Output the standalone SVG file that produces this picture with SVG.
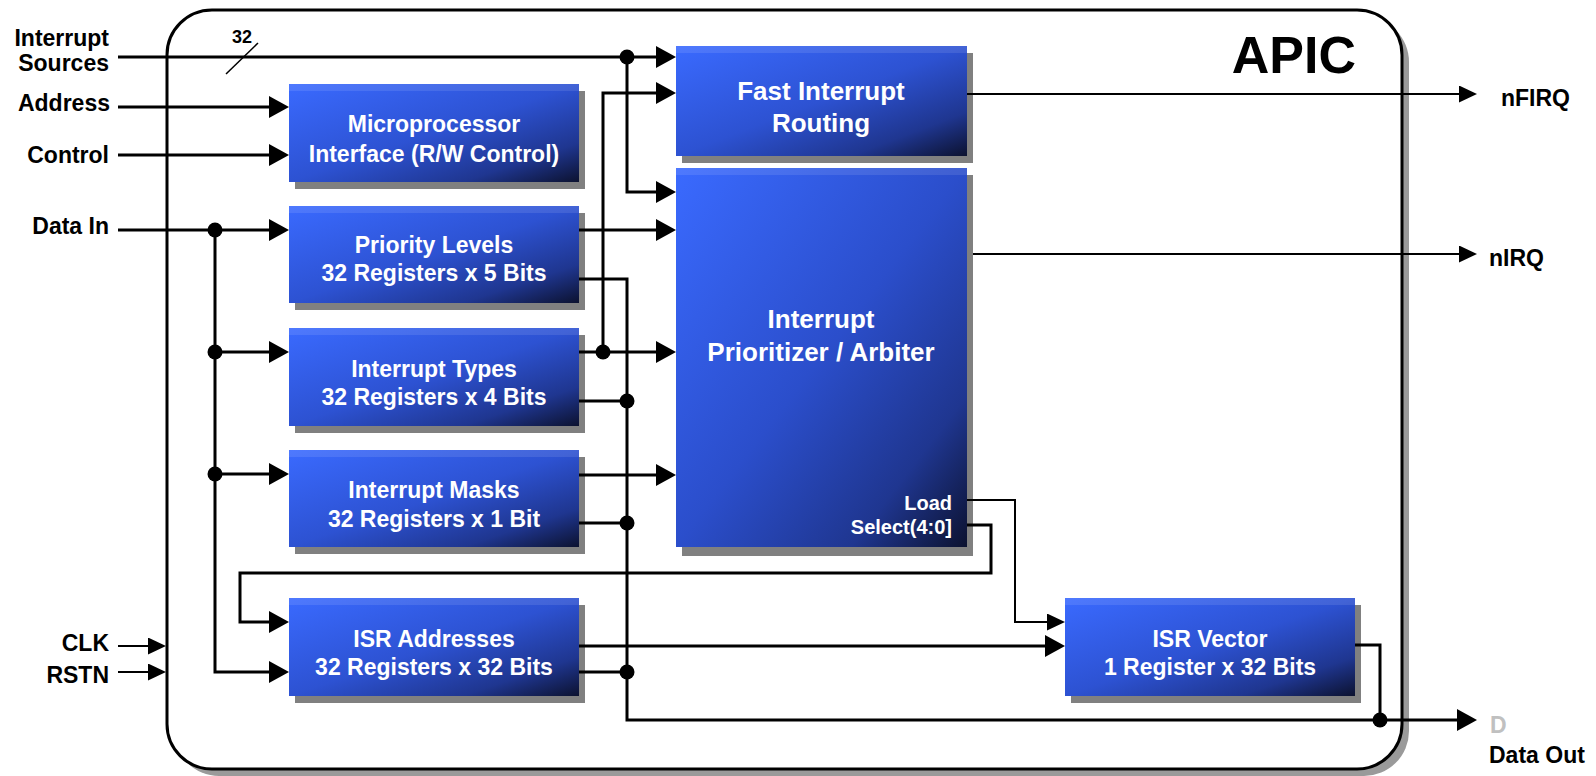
<svg xmlns="http://www.w3.org/2000/svg" width="1596" height="776" viewBox="0 0 1596 776">
<defs>
<linearGradient id="blk" x1="0" y1="0" x2="1" y2="1">
<stop offset="0" stop-color="#3a6aff"/>
<stop offset="0.5" stop-color="#2d52d2"/>
<stop offset="0.8" stop-color="#1f3690"/>
<stop offset="1" stop-color="#0c1230"/>
</linearGradient>
<linearGradient id="blkTall" x1="0" y1="0" x2="1" y2="1" gradientUnits="objectBoundingBox">
<stop offset="0" stop-color="#3a6aff"/>
<stop offset="0.5" stop-color="#2b4ecb"/>
<stop offset="0.8" stop-color="#1f3690"/>
<stop offset="1" stop-color="#0c1230"/>
</linearGradient>
<marker id="ah" markerUnits="userSpaceOnUse" markerWidth="20" markerHeight="22" refX="10" refY="11" orient="auto">
<path d="M0,0 L20,11 L0,22 z" fill="#000"/>
</marker>
<marker id="ahs" markerUnits="userSpaceOnUse" markerWidth="18" markerHeight="17" refX="9" refY="8.5" orient="auto">
<path d="M0,0 L18,8.5 L0,17 z" fill="#000"/>
</marker>
</defs>
<style>
.lbl{font-family:"Liberation Sans",Arial,sans-serif;font-weight:bold;font-size:23px;fill:#000}
.bt{font-family:"Liberation Sans",Arial,sans-serif;font-weight:bold;font-size:23px;fill:#fff;text-anchor:middle}
.bt26{font-size:26px}
.sm{font-family:"Liberation Sans",Arial,sans-serif;font-weight:bold;font-size:20px;fill:#fff;text-anchor:end}
.shadow{fill:#808080}
.box{fill:url(#blk)}
.strip{fill:#ffffff;opacity:0.1}
.thick{fill:none;stroke:#000;stroke-width:3}
.thin{fill:none;stroke:#000;stroke-width:2}
.dot{fill:#000}
</style>

<g id="apic-frame">
<rect x="174" y="17" width="1235" height="759" rx="45" fill="#9a9a9a"/>
<rect x="167" y="10" width="1235" height="759" rx="45" fill="#fff" stroke="#000" stroke-width="3"/>
<text x="1356" y="73" style="font-family:'Liberation Sans',Arial,sans-serif;font-weight:bold;font-size:52px;text-anchor:end">APIC</text>
</g>

<g id="labels-left">
<text class="lbl" x="109" y="46" text-anchor="end">Interrupt</text>
<text class="lbl" x="109" y="71" text-anchor="end">Sources</text>
<text class="lbl" x="110" y="111" text-anchor="end">Address</text>
<text class="lbl" x="109" y="163" text-anchor="end">Control</text>
<text class="lbl" x="109" y="234" text-anchor="end">Data In</text>
<text class="lbl" x="109" y="651" text-anchor="end">CLK</text>
<text class="lbl" x="109" y="683" text-anchor="end">RSTN</text>
<text x="242" y="43" text-anchor="middle" style="font-family:'Liberation Sans',Arial,sans-serif;font-weight:bold;font-size:18px">32</text>
<line x1="226" y1="74" x2="258" y2="43" stroke="#000" stroke-width="1.5"/>
</g>

<g id="labels-right">
<text class="lbl" x="1501" y="106">nFIRQ</text>
<text class="lbl" x="1489" y="266">nIRQ</text>
<text class="lbl" x="1490" y="733" style="fill:#c0c0c0">D</text>
<text class="lbl" x="1489" y="763">Data Out</text>
</g>

<g id="micro-if">
<rect class="shadow" x="295" y="91" width="290" height="98"/>
<rect class="box" x="289" y="84" width="290" height="98"/>
<rect class="strip" x="289" y="84" width="290" height="7"/>
<text class="bt" x="434" y="132">Microprocessor</text>
<text class="bt" x="434" y="162">Interface (R/W Control)</text>
</g>

<g id="priority-levels">
<rect class="shadow" x="295" y="213" width="290" height="97"/>
<rect class="box" x="289" y="206" width="290" height="97"/>
<rect class="strip" x="289" y="206" width="290" height="7"/>
<text class="bt" x="434" y="253">Priority Levels</text>
<text class="bt" x="434" y="281">32 Registers x 5 Bits</text>
</g>

<g id="interrupt-types">
<rect class="shadow" x="295" y="335" width="290" height="98"/>
<rect class="box" x="289" y="328" width="290" height="98"/>
<rect class="strip" x="289" y="328" width="290" height="7"/>
<text class="bt" x="434" y="377">Interrupt Types</text>
<text class="bt" x="434" y="405">32 Registers x 4 Bits</text>
</g>

<g id="interrupt-masks">
<rect class="shadow" x="295" y="457" width="290" height="97"/>
<rect class="box" x="289" y="450" width="290" height="97"/>
<rect class="strip" x="289" y="450" width="290" height="7"/>
<text class="bt" x="434" y="498">Interrupt Masks</text>
<text class="bt" x="434" y="527">32 Registers x 1 Bit</text>
</g>

<g id="isr-addresses">
<rect class="shadow" x="295" y="605" width="290" height="98"/>
<rect class="box" x="289" y="598" width="290" height="98"/>
<rect class="strip" x="289" y="598" width="290" height="7"/>
<text class="bt" x="434" y="647">ISR Addresses</text>
<text class="bt" x="434" y="675">32 Registers x 32 Bits</text>
</g>

<g id="isr-vector">
<rect class="shadow" x="1071" y="605" width="290" height="98"/>
<rect class="box" x="1065" y="598" width="290" height="98"/>
<rect class="strip" x="1065" y="598" width="290" height="7"/>
<text class="bt" x="1210" y="647">ISR Vector</text>
<text class="bt" x="1210" y="675">1 Register x 32 Bits</text>
</g>

<g id="fast-routing">
<rect class="shadow" x="682" y="53" width="291" height="110"/>
<rect class="box" x="676" y="46" width="291" height="110"/>
<rect class="strip" x="676" y="46" width="291" height="7"/>
<text class="bt bt26" x="821" y="100">Fast Interrupt</text>
<text class="bt bt26" x="821" y="132">Routing</text>
</g>

<g id="prioritizer">
<rect class="shadow" x="682" y="175" width="291" height="381"/>
<rect x="676" y="168" width="291" height="379" fill="url(#blkTall)"/>
<rect class="strip" x="676" y="168" width="291" height="7"/>
<text class="bt bt26" x="821" y="328">Interrupt</text>
<text class="bt bt26" x="821" y="361">Prioritizer / Arbiter</text>
<text class="sm" x="952" y="510">Load</text>
<text class="sm" x="952" y="534">Select(4:0]</text>
</g>

<g id="connectors">
<path class="thick" d="M118,57 H666" marker-end="url(#ah)"/>
<path class="thick" d="M627,57 V192 H666" marker-end="url(#ah)"/>
<path class="thick" d="M118,107 H279" marker-end="url(#ah)"/>
<path class="thick" d="M118,155 H279" marker-end="url(#ah)"/>
<path class="thick" d="M118,230 H279" marker-end="url(#ah)"/>
<path class="thick" d="M215,230 V672 H279" marker-end="url(#ah)"/>
<path class="thick" d="M215,352 H279" marker-end="url(#ah)"/>
<path class="thick" d="M215,474 H279" marker-end="url(#ah)"/>
<path class="thick" d="M579,230 H666" marker-end="url(#ah)"/>
<path class="thick" d="M579,279 H627 V720 H1467" marker-end="url(#ah)"/>
<path class="thick" d="M579,352 H666" marker-end="url(#ah)"/>
<path class="thick" d="M603,352 V93 H666" marker-end="url(#ah)"/>
<path class="thick" d="M579,401 H627"/>
<path class="thick" d="M579,475 H666" marker-end="url(#ah)"/>
<path class="thick" d="M579,523 H627"/>
<path class="thick" d="M579,646 H1055" marker-end="url(#ah)"/>
<path class="thick" d="M579,672 H627"/>
<path class="thick" d="M967,525 H991 V573 H240 V622 H279" marker-end="url(#ah)"/>
<path class="thick" d="M1355,645 H1380 V720"/>
<path class="thin" d="M967,94 H1468" marker-end="url(#ahs)"/>
<path class="thin" d="M973,254 H1468" marker-end="url(#ahs)"/>
<path class="thin" d="M967,500 H1015 V622 H1056" marker-end="url(#ahs)"/>
<path class="thin" d="M118,646 H157" marker-end="url(#ahs)"/>
<path class="thin" d="M118,672 H157" marker-end="url(#ahs)"/>
<circle class="dot" cx="627" cy="57" r="7.5"/>
<circle class="dot" cx="215" cy="230" r="7.5"/>
<circle class="dot" cx="215" cy="352" r="7.5"/>
<circle class="dot" cx="215" cy="474" r="7.5"/>
<circle class="dot" cx="603" cy="352" r="7.5"/>
<circle class="dot" cx="627" cy="401" r="7.5"/>
<circle class="dot" cx="627" cy="523" r="7.5"/>
<circle class="dot" cx="627" cy="672" r="7.5"/>
<circle class="dot" cx="1380" cy="720" r="7.5"/>
</g>
</svg>
